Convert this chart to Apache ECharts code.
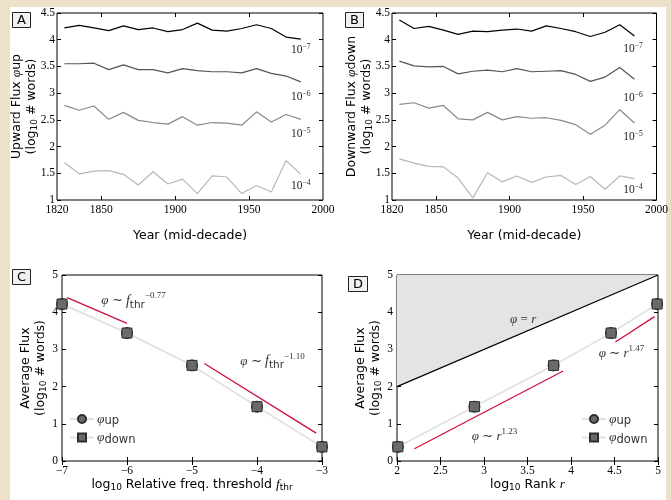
<!DOCTYPE html>
<html>
<head>
<meta charset="utf-8">
<script src="https://cdn.jsdelivr.net/npm/echarts@6/dist/echarts.min.js"></script>
<style>
html,body{margin:0;padding:0;width:671px;height:500px;background:#ede1ca;overflow:hidden;}
#paper{position:absolute;left:10px;top:7px;right:5px;bottom:0;background:#fff;}
#chart{position:absolute;left:0;top:0;width:671px;height:500px;}
</style>
</head>
<body>
<div id="paper"></div>
<div id="chart"></div>
<script>
// ---------- data ----------
const years = [1825,1835,1845,1855,1865,1875,1885,1895,1905,1915,1925,1935,1945,1955,1965,1975,1985];
// Panel A: upward flux per threshold
const up7 = [4.22,4.27,4.22,4.17,4.26,4.19,4.22,4.15,4.19,4.31,4.18,4.16,4.21,4.28,4.21,4.05,4.01];
const up6 = [3.55,3.55,3.56,3.44,3.53,3.44,3.44,3.38,3.46,3.42,3.40,3.40,3.38,3.46,3.37,3.32,3.21];
const up5 = [2.77,2.68,2.76,2.51,2.64,2.49,2.45,2.42,2.56,2.40,2.45,2.44,2.40,2.65,2.46,2.60,2.51];
const up4 = [1.70,1.49,1.54,1.55,1.48,1.28,1.53,1.30,1.39,1.12,1.45,1.43,1.12,1.27,1.15,1.74,1.48];
// Panel B: downward flux per threshold
const down7 = [4.37,4.21,4.25,4.18,4.10,4.16,4.15,4.18,4.20,4.16,4.26,4.21,4.15,4.06,4.14,4.28,4.07];
const down6 = [3.60,3.51,3.49,3.50,3.36,3.41,3.43,3.40,3.46,3.40,3.41,3.42,3.35,3.22,3.30,3.48,3.26];
const down5 = [2.79,2.82,2.72,2.77,2.52,2.50,2.64,2.50,2.56,2.53,2.54,2.49,2.41,2.23,2.40,2.69,2.44];
const down4 = [1.77,1.69,1.63,1.62,1.41,1.04,1.51,1.34,1.45,1.33,1.43,1.46,1.29,1.44,1.20,1.45,1.40];
const thresholdExponents = ['−7','−6','−5','−4'];
// Panel C / D: average flux (one entry per threshold 1e-7 .. 1e-3)
const logThreshold = [-7,-6,-5,-4,-3];
const avgFluxUp = [4.22,3.44,2.57,1.46,0.38];
const avgFluxDown = [4.22,3.44,2.57,1.46,0.38];
const logRank = [4.99,4.46,3.80,2.89,2.01];
// fitted power-law segments
const fitC1 = [[-6.92,4.39],[-6.0,3.70]];
const fitC2 = [[-4.81,2.62],[-3.09,0.75]];
const fitD1 = [[2.20,0.33],[3.91,2.42]];
const fitD2 = [[4.51,3.20],[4.96,3.88]];
const identityLine = [[2,2],[5,5]];

// ---------- styles ----------
const SERIF = 'Liberation Serif';
const SANS = 'DejaVu Sans';
const grays = ['#000000','#555555','#8a8a8a','#b8b8b8'];
const red = '#cf0f3c';

const zip = (xs, ys) => xs.map((x, i) => [x, ys[i]]);

const grids = [
  {left:57, top:13, width:266, height:187},
  {left:392, top:13, width:266, height:187},
  {left:62, top:275, width:260, height:186},
  {left:397, top:275, width:261, height:186}
].map(g => Object.assign({show:true, borderColor:'#000', borderWidth:1, backgroundColor:'transparent'}, g));

const tickStyle = {show:true, inside:true, length:4, lineStyle:{color:'#000', width:1}};
const fmt = v => String(v).replace('-', '−');
const labelStyle = {color:'#000', fontFamily:SERIF, fontSize:11.5, margin:4, formatter:fmt};
const nameStyle = {color:'#000', fontFamily:SANS, fontSize:12.5,
  rich:{
    t:{fontFamily:SANS, fontSize:12.5, color:'#000'},
    s:{fontFamily:SANS, fontSize:9, color:'#000', verticalAlign:'bottom', padding:[6,0,0,0]},
    i:{fontFamily:SERIF, fontStyle:'italic', fontSize:13.5, color:'#000'}
  }};

function xMain(grid, min, max, interval, name, gap, extra) {
  return Object.assign({type:'value', gridIndex:grid, min, max, interval, position:'bottom',
    axisLine:{show:false}, splitLine:{show:false},
    axisTick:tickStyle, axisLabel:labelStyle,
    name, nameLocation:'middle', nameGap:gap, nameTextStyle:nameStyle}, extra || {});
}
function xTop(grid, min, max, interval, extra) {
  return Object.assign({type:'value', gridIndex:grid, min, max, interval, position:'top',
    axisLine:{show:false}, splitLine:{show:false}, axisTick:tickStyle, axisLabel:{show:false}}, extra || {});
}
function yMain(grid, min, max, interval, name, gap, margin) {
  return {type:'value', gridIndex:grid, min, max, interval, position:'left',
    axisLine:{show:false}, splitLine:{show:false}, axisTick:tickStyle,
    axisLabel:Object.assign({}, labelStyle, {margin}),
    name, nameLocation:'middle', nameRotate:90, nameGap:gap, nameMoveOverlap:false,
    nameTextStyle:Object.assign({}, nameStyle, {lineHeight:15})};
}
function yRight(grid, min, max, interval) {
  return {type:'value', gridIndex:grid, min, max, interval, position:'right',
    axisLine:{show:false}, splitLine:{show:false}, axisTick:tickStyle, axisLabel:{show:false}};
}

const yearTicks = {axisTick:Object.assign({}, tickStyle, {customValues:[1850,1900,1950]}),
                   axisLabel:Object.assign({}, labelStyle, {customValues:[1820,1850,1900,1950,2000]})};
const yearTicksTop = {axisTick:Object.assign({}, tickStyle, {customValues:[1850,1900,1950]})};

const xAxes = [
  xMain(0, 1820, 2000, 10, 'Year (mid-decade)', 29, yearTicks),
  xMain(1, 1820, 2000, 10, 'Year (mid-decade)', 29, yearTicks),
  xMain(2, -7, -3, 1, '{t|log}{s|10}{t| Relative freq. threshold }{i|f}{s|thr}', 15),
  xMain(3, 2, 5, 0.5, '{t|log}{s|10}{t| Rank }{i|r}', 15),
  xTop(0, 1820, 2000, 10, yearTicksTop),
  xTop(1, 1820, 2000, 10, yearTicksTop),
  xTop(2, -7, -3, 1),
  xTop(3, 2, 5, 0.5)
];
const yAxes = [
  yMain(0, 1, 4.5, 0.5, '{t|Upward Flux }{i|φ}{t|up}\n{t|(log}{s|10}{t| # words)}', 18, 2),
  yMain(1, 1, 4.5, 0.5, '{t|Downward Flux }{i|φ}{t|down}\n{t|(log}{s|10}{t| # words)}', 18, 2),
  yMain(2, 0, 5, 1, '{t|Average Flux}\n{t|(log}{s|10}{t| # words)}', 14, 4),
  yMain(3, 0, 5, 1, '{t|Average Flux}\n{t|(log}{s|10}{t| # words)}', 14, 4),
  yRight(0, 1, 4.5, 0.5),
  yRight(1, 1, 4.5, 0.5),
  yRight(2, 0, 5, 1),
  yRight(3, 0, 5, 1)
];

const supRich = {
  b:{fontFamily:SERIF, fontSize:11.5, color:'#222', lineHeight:13, verticalAlign:'bottom'},
  sup:{fontFamily:SERIF, fontSize:7.5, color:'#222', lineHeight:13, verticalAlign:'top'}
};
function textMark(coord, text, rich) {
  return {
    symbol:'rect', symbolSize:1, itemStyle:{color:'rgba(0,0,0,0)'},
    label:{show:true, position:'inside', formatter:text, rich},
    data:[{coord}]
  };
}
const labelYA = [3.81, 2.93, 2.25, 1.28];
const labelYB = [3.84, 2.91, 2.18, 1.19];

function trendSeries(grid, values, i, labelY, labelX) {
  return {
    type:'line', xAxisIndex:grid, yAxisIndex:grid, data:zip(years, values),
    showSymbol:false, symbol:'none', silent:true,
    lineStyle:{color:grays[i], width:1.2}, z:3,
    markPoint:textMark([labelX, labelY[i]], '{b|10}{sup|' + thresholdExponents[i] + '}', supRich)
  };
}

const annRich = {
  p:{fontFamily:SERIF, fontStyle:'italic', fontSize:13, color:'#333', lineHeight:19, verticalAlign:'middle'},
  o:{fontFamily:SERIF, fontSize:13, color:'#333', lineHeight:19, verticalAlign:'middle'},
  f:{fontFamily:SERIF, fontStyle:'italic', fontSize:14, color:'#333', lineHeight:19, verticalAlign:'middle'},
  sub:{fontFamily:SANS, fontSize:10.5, color:'#333', lineHeight:19, verticalAlign:'bottom'},
  sup:{fontFamily:SERIF, fontSize:9, color:'#333', lineHeight:19, verticalAlign:'top'}
};

function fitSeries(grid, pts, ann) {
  const s = {type:'line', xAxisIndex:grid, yAxisIndex:grid, data:pts, symbol:'none', silent:true,
    lineStyle:{color:red, width:1.3}, z:4};
  if (ann) s.markPoint = textMark(ann.coord, ann.text, annRich);
  return s;
}

function fluxSeries(grid, name, xs, ys, symbol) {
  return {type:'line', name, xAxisIndex:grid, yAxisIndex:grid, data:zip(xs, ys),
    symbol, showSymbol:true, silent:true, z:5,
    symbolSize: symbol === 'rect' ? 10 : 11,
    itemStyle:{color:'#6a6a6a', borderColor:'#2e2e2e', borderWidth:1},
    lineStyle:{color:'#e2e2e2', width:1.5}};
}

const series = [
  trendSeries(0, up7, 0, labelYA, 1985),
  trendSeries(0, up6, 1, labelYA, 1985),
  trendSeries(0, up5, 2, labelYA, 1985),
  trendSeries(0, up4, 3, labelYA, 1985),
  trendSeries(1, down7, 0, labelYB, 1984),
  trendSeries(1, down6, 1, labelYB, 1984),
  trendSeries(1, down5, 2, labelYB, 1984),
  trendSeries(1, down4, 3, labelYB, 1984),
  // panel C
  fitSeries(2, fitC1, {coord:[-5.9, 4.30], text:'{p|φ}{o| ∼ }{f|f}{sub|thr}{sup|−0.77}'}),
  fitSeries(2, fitC2, {coord:[-3.76, 2.68], text:'{p|φ}{o| ∼ }{f|f}{sub|thr}{sup|−1.10}'}),
  fluxSeries(2, 'φup', logThreshold, avgFluxUp, 'circle'),
  fluxSeries(2, 'φdown', logThreshold, avgFluxDown, 'rect'),
  // panel D
  {type:'line', xAxisIndex:3, yAxisIndex:3, data:identityLine, symbol:'none', silent:true,
   lineStyle:{color:'#000', width:1.2}, areaStyle:{origin:'end', color:'#e4e4e4', opacity:1}, z:2,
   markPoint:textMark([3.45, 3.80], '{p|φ}{o| = }{p|r}', annRich)},
  fitSeries(3, fitD1, {coord:[3.12, 0.66], text:'{p|φ}{o| ∼ }{p|r}{sup|1.23}'}),
  fitSeries(3, fitD2, {coord:[4.58, 2.88], text:'{p|φ}{o| ∼ }{p|r}{sup|1.47}'}),
  fluxSeries(3, 'φup', logRank, avgFluxUp, 'circle'),
  fluxSeries(3, 'φdown', logRank, avgFluxDown, 'rect')
];

const legendRich = {
  p:{fontFamily:SERIF, fontStyle:'italic', fontSize:13.5, color:'#333'},
  s:{fontFamily:SANS, fontSize:11.5, color:'#333', padding:[5,0,0,0]}
};
function legendAt(left, top) {
  return {orient:'vertical', left, top, itemGap:3, itemWidth:24, itemHeight:10,
    data:['φup','φdown'], selectedMode:false,
    formatter: n => n === 'φup' ? '{p|φ}{s|up}' : '{p|φ}{s|down}',
    textStyle:{rich:legendRich, padding:[0,0,0,-2]}};
}

const boxTitle = (text, left, top) => ({
  text, left, top, padding:[2,5,1,5], borderColor:'#222', borderWidth:1, backgroundColor:'#f0f0f0',
  textStyle:{fontFamily:SANS, fontSize:13, fontWeight:'normal', color:'#000'}
});

const chart = echarts.init(document.getElementById('chart'), null, {renderer:'canvas'});
chart.setOption({
  animation:false,
  backgroundColor:'transparent',
  title:[boxTitle('A', 12, 12), boxTitle('B', 345, 12), boxTitle('C', 12, 269), boxTitle('D', 348, 276)],
  grid:grids,
  xAxis:xAxes,
  yAxis:yAxes,
  legend:[legendAt(64, 407), legendAt(576, 407)],
  series
});
</script>
</body>
</html>
